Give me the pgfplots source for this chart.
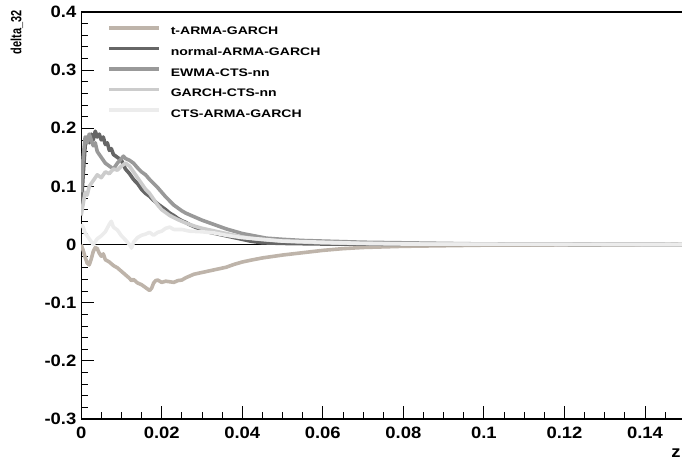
\documentclass[border=0pt]{standalone}
\usepackage{fontspec}
\usepackage{graphicx}
\setmainfont{Liberation Sans}
\newfontfamily\tickfont{Liberation Sans}[FakeStretch=1.12]
\newfontfamily\legfont{Liberation Sans}[FakeStretch=1.28]
\usepackage{pgfplots}
\pgfplotsset{compat=1.18}
\definecolor{ctan}{RGB}{190,180,170}
\definecolor{cdark}{RGB}{102,102,102}
\definecolor{cmid}{RGB}{153,153,153}
\definecolor{clight}{RGB}{204,204,204}
\definecolor{cvlight}{RGB}{236,236,236}
\begin{document}
\begin{tikzpicture}
\begin{axis}[
  scale only axis, width=604.1bp, height=407bp,
  xmin=0, xmax=0.15, ymin=-0.3, ymax=0.4,
  axis line style={line width=1.1bp},
  tick pos=left, tick align=inside,
  xtick={0,0.02,0.04,0.06,0.08,0.1,0.12,0.14},
  xticklabels={0,0.02,0.04,0.06,0.08,0.1,0.12,0.14},
  minor xtick={0.005,0.01,0.015,0.025,0.03,0.035,0.045,0.05,0.055,0.065,0.07,0.075,0.085,0.09,0.095,0.105,0.11,0.115,0.125,0.13,0.135,0.145,0.15},
  ytick={-0.3,-0.2,-0.1,0,0.1,0.2,0.3,0.4},
  yticklabels={-0.3,-0.2,-0.1,0,0.1,0.2,0.3,0.4},
  minor y tick num=4,
  major tick length=13bp, minor tick length=7bp,
  every tick/.style={black, line width=0.8bp},
  xticklabel style={font=\tickfont\bfseries\fontsize{16.5}{16.5}\selectfont, inner sep=0pt, yshift=-8bp},
  yticklabel style={font=\tickfont\bfseries\fontsize{16.5}{16.5}\selectfont, inner sep=0pt, xshift=-4.7bp},
  legend cell align=left,
  legend image code/.code={\draw[#1] (0bp,4bp) -- (50bp,4bp);},
  legend style={draw=none, fill=none, at={(0.0428,0.966)}, anchor=north west,
    inner sep=0pt, row sep=9.8bp, column sep=10bp,
    font=\legfont\bfseries\fontsize{11}{11}\selectfont,
    nodes={inner sep=0pt, text height=8bp, text depth=2bp}},
  every axis plot/.append style={line width=3.6bp, line join=round},
]
\addplot[black, line width=0.8bp, forget plot] coordinates {(0,0) (0.15,0)};

% t-ARMA-GARCH
\addplot[ctan] coordinates {
(0,0.0) (0.0005,-0.01) (0.001,-0.022) (0.0015,-0.032) (0.002,-0.035) (0.0025,-0.025)
(0.003,-0.012) (0.0035,-0.005) (0.004,-0.007) (0.0045,-0.015) (0.005,-0.02) (0.0055,-0.016)
(0.006,-0.026) (0.007,-0.03) (0.008,-0.036) (0.009,-0.04) (0.010,-0.046) (0.011,-0.052)
(0.012,-0.058) (0.0125,-0.062) (0.013,-0.06) (0.014,-0.066) (0.015,-0.069) (0.016,-0.074)
(0.017,-0.079) (0.0175,-0.075) (0.018,-0.066) (0.0185,-0.062) (0.019,-0.061) (0.020,-0.065)
(0.021,-0.063) (0.022,-0.064) (0.023,-0.065) (0.024,-0.062) (0.025,-0.061) (0.026,-0.057)
(0.027,-0.054) (0.028,-0.051) (0.030,-0.048) (0.032,-0.045) (0.034,-0.042) (0.036,-0.039)
(0.038,-0.034) (0.040,-0.030) (0.042,-0.027) (0.045,-0.023) (0.048,-0.020) (0.050,-0.018)
(0.055,-0.014) (0.060,-0.010) (0.065,-0.007) (0.070,-0.005) (0.075,-0.004) (0.080,-0.003)
(0.090,-0.002) (0.100,-0.001) (0.150,0.0)};
\addlegendentry{t-ARMA-GARCH}

% normal-ARMA-GARCH
\addplot[cdark] coordinates {
(0,0.06) (0.0005,0.12) (0.001,0.17) (0.0015,0.185) (0.002,0.175) (0.0025,0.19) (0.003,0.18)
(0.0035,0.195) (0.004,0.185) (0.0045,0.19) (0.005,0.18) (0.0055,0.185) (0.006,0.172)
(0.0065,0.175) (0.007,0.162) (0.0075,0.165) (0.008,0.155) (0.009,0.15) (0.010,0.145)
(0.011,0.13) (0.012,0.122) (0.013,0.112) (0.014,0.105) (0.015,0.095) (0.016,0.088)
(0.017,0.083) (0.018,0.076) (0.019,0.07) (0.020,0.065) (0.021,0.06) (0.022,0.054)
(0.023,0.05) (0.024,0.045) (0.025,0.041) (0.026,0.038) (0.027,0.034) (0.028,0.031)
(0.030,0.025) (0.032,0.021) (0.034,0.018) (0.036,0.015) (0.038,0.012) (0.040,0.009)
(0.042,0.006) (0.045,0.003) (0.050,0.002) (0.060,0.001) (0.080,0.0005) (0.150,0.0)};
\addlegendentry{normal-ARMA-GARCH}

% EWMA-CTS-nn
\addplot[cmid] coordinates {
(0,0.09) (0.0005,0.15) (0.001,0.185) (0.0015,0.175) (0.002,0.19) (0.0025,0.18) (0.003,0.17)
(0.0035,0.175) (0.004,0.16) (0.005,0.15) (0.006,0.14) (0.007,0.135) (0.008,0.13)
(0.009,0.14) (0.010,0.148) (0.0105,0.152) (0.011,0.148) (0.012,0.145) (0.013,0.14)
(0.014,0.132) (0.015,0.125) (0.016,0.12) (0.017,0.112) (0.018,0.105) (0.019,0.098)
(0.020,0.09) (0.021,0.082) (0.022,0.075) (0.023,0.068) (0.024,0.063) (0.025,0.058)
(0.026,0.054) (0.028,0.048) (0.030,0.042) (0.032,0.037) (0.034,0.032) (0.036,0.027)
(0.038,0.023) (0.040,0.019) (0.043,0.015) (0.046,0.011) (0.050,0.009) (0.055,0.007)
(0.060,0.006) (0.070,0.004) (0.080,0.003) (0.100,0.001) (0.150,0.0)};
\addlegendentry{EWMA-CTS-nn}

% GARCH-CTS-nn
\addplot[clight] coordinates {
(0,0.05) (0.0005,0.07) (0.001,0.09) (0.0015,0.085) (0.002,0.1) (0.003,0.11) (0.004,0.12)
(0.005,0.115) (0.006,0.125) (0.007,0.122) (0.008,0.13) (0.009,0.128) (0.010,0.135)
(0.011,0.14) (0.012,0.135) (0.013,0.125) (0.014,0.115) (0.015,0.105) (0.016,0.095)
(0.017,0.088) (0.018,0.078) (0.019,0.068) (0.020,0.06) (0.021,0.055) (0.022,0.05)
(0.024,0.043) (0.026,0.037) (0.028,0.032) (0.030,0.028) (0.032,0.025) (0.034,0.022)
(0.036,0.019) (0.038,0.016) (0.040,0.013) (0.043,0.01) (0.046,0.008) (0.050,0.006)
(0.060,0.003) (0.070,0.002) (0.090,0.001) (0.150,0.0)};
\addlegendentry{GARCH-CTS-nn}

% CTS-ARMA-GARCH
\addplot[cvlight] coordinates {
(0,0.035) (0.0005,0.03) (0.001,0.02) (0.0015,0.015) (0.002,0.01) (0.0025,0.005) (0.003,0.0)
(0.0035,0.005) (0.004,0.01) (0.005,0.015) (0.006,0.022) (0.007,0.035) (0.0075,0.04)
(0.008,0.03) (0.009,0.025) (0.010,0.015) (0.011,0.008) (0.012,0.0) (0.0125,-0.006)
(0.013,0.004) (0.014,0.012) (0.015,0.016) (0.016,0.018) (0.017,0.021) (0.018,0.016)
(0.019,0.021) (0.020,0.023) (0.021,0.028) (0.022,0.03) (0.023,0.026) (0.025,0.026)
(0.027,0.023) (0.030,0.022) (0.033,0.02) (0.036,0.016) (0.040,0.012) (0.045,0.009)
(0.050,0.006) (0.060,0.004) (0.070,0.002) (0.080,0.001) (0.100,0.0005) (0.150,0.0)};
\addlegendentry{CTS-ARMA-GARCH}
\end{axis}
\node[anchor=north, inner sep=0pt] at (-64.15bp,409bp) {\rotatebox{90}{\scalebox{1}[1.35]{\bfseries\fontsize{11}{11}\selectfont delta\_32}}};
\node[anchor=base east, inner sep=0pt, font=\tickfont\bfseries\fontsize{16.5}{16.5}\selectfont] at (599.5bp,-38bp) {z};
\pgfresetboundingbox
\useasboundingbox (-81.15bp,-42bp) rectangle (600.85bp,419bp);
\end{tikzpicture}
\end{document}
